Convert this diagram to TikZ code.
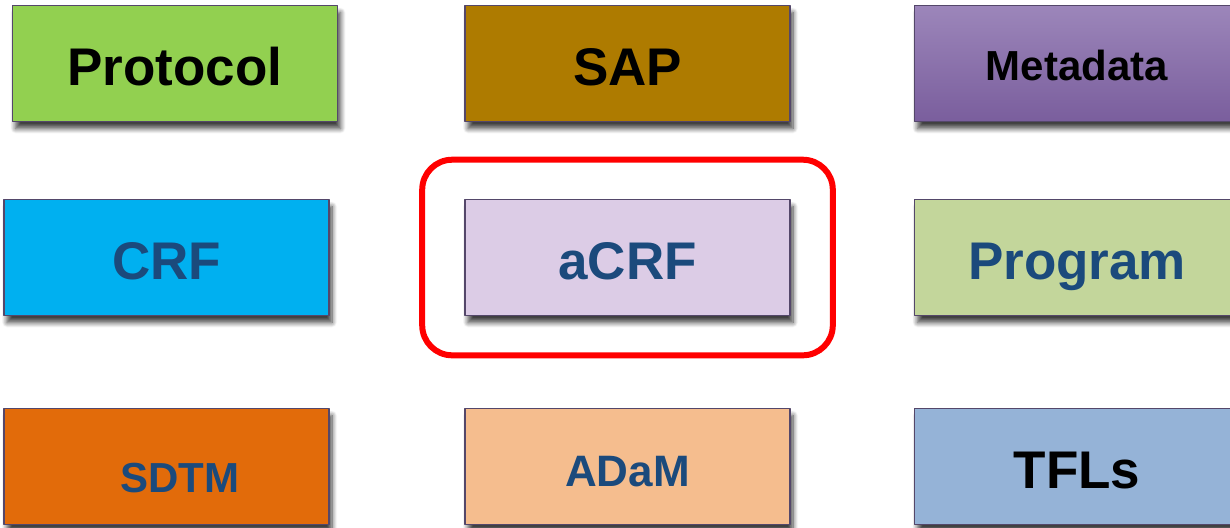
\documentclass[tikz,border=0pt]{standalone}
\usepackage{fontspec}
\setmainfont{Liberation Sans}
\usetikzlibrary{shadows.blur,fit}
\definecolor{protogreen}{HTML}{92D050}
\definecolor{sapgold}{HTML}{AE7B00}
\definecolor{metatop}{HTML}{9C86BA}
\definecolor{metabottom}{HTML}{7A5E9D}
\definecolor{crfblue}{HTML}{00B0F0}
\definecolor{acrflilac}{HTML}{DCCCE6}
\definecolor{proggreen}{HTML}{C3D69B}
\definecolor{sdtmorange}{HTML}{E26B0A}
\definecolor{adampeach}{HTML}{F5BD8E}
\definecolor{tflblue}{HTML}{95B3D7}
\definecolor{navytext}{HTML}{1B4A7C}
\definecolor{boxedge}{HTML}{54476A}
\begin{document}
\begin{tikzpicture}[x=0.5pt, y=-0.5pt, line join=round]
	\tikzset{box style/.style={draw=boxedge, line width=0.8pt, minimum width=162.5pt, minimum height=58pt, inner sep=0pt, text depth=0pt,
			blur shadow={shadow xshift=1.5pt, shadow yshift=-3.5pt, shadow blur steps=8, shadow blur radius=2.5pt, shadow opacity=75}},
		big text/.style={font=\fontsize{26.5}{30}\selectfont\bfseries, text height=21.5pt},
		small text/.style={font=\fontsize{21}{24}\selectfont\bfseries, text height=17pt}}
	\useasboundingbox (0,0) rectangle (1230,527);
	% top row
	\node[box style, big text, fill=protogreen] (protocol) at (175,63.5) {Protocol};
	\node[box style, big text, fill=sapgold] (sap) at (627.5,63.5) {SAP};
	\node[box style, small text, top color=metatop, bottom color=metabottom] (metadata) at (1077,63.5) {Metadata};
	% middle row
	\node[box style, big text, text=navytext, fill=crfblue] (crf) at (166.5,257.5) {CRF};
	\node[box style, big text, text=navytext, fill=acrflilac] (acrf) at (627.5,257.5) {aCRF};
	\node[box style, big text, text=navytext, fill=proggreen] (program) at (1077,257.5) {Program};
	% bottom row
	\node[box style, fill=sdtmorange, label={[small text, text=navytext, text height=15pt, text depth=0pt, inner sep=0pt, xshift=6.75pt, yshift=-5.5pt]center:SDTM}] (sdtm) at (166.5,466.5) {};
	\node[box style, fill=adampeach, label={[font=\fontsize{22}{26}\selectfont\bfseries, text=navytext, text height=15.75pt, text depth=0pt, inner sep=0pt, yshift=-2.25pt]center:ADaM}] (adam) at (627.5,466.5) {};
	\node[box style, big text, fill=tflblue] (tfls) at (1077,466.5) {TFLs};
	% highlight
	\node[draw=red, line width=3pt, rounded corners=15pt, fit=(acrf), inner xsep=21pt, inner ysep=19.5pt] (focus) {};
\end{tikzpicture}
\end{document}
